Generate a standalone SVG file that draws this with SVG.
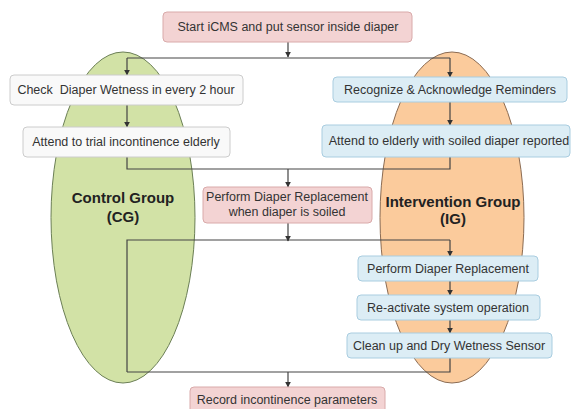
<svg xmlns="http://www.w3.org/2000/svg" width="572" height="409" viewBox="0 0 572 409">
<defs>
<marker id="ah" viewBox="0 0 10 10" refX="9" refY="5" markerWidth="6" markerHeight="6" orient="auto" markerUnits="userSpaceOnUse"><path d="M0,0 L10,5 L0,10 z" fill="#333"/></marker>
</defs>
<style>
text{font-family:"Liberation Sans",Arial,sans-serif;fill:#333;}
.t{font-size:12.5px;text-anchor:middle;}
.g{font-size:15px;font-weight:bold;text-anchor:middle;fill:#222;}
.pink{fill:#f3d3d3;stroke:#d9aaaa;stroke-width:1;}
.blue{fill:#dcedf5;stroke:#a9cde0;stroke-width:1;}
.white{fill:#f9f9f9;stroke:#cccccc;stroke-width:1;}
.c{fill:none;stroke:#444;stroke-width:1.2;}
</style>
<rect width="572" height="409" fill="#ffffff"/>
<g id="cg">
<ellipse cx="123" cy="217.5" rx="72" ry="165.5" fill="#d2e2a6" stroke="#6b7f55" stroke-width="1"/>
<text class="g" x="123" y="203">Control Group</text>
<text class="g" x="123" y="222">(CG)</text>
</g>
<g id="ig">
<ellipse cx="452" cy="217.5" rx="72" ry="165.5" fill="#fbcb9c" stroke="#8b6b52" stroke-width="1"/>
<text class="g" x="453" y="207">Intervention Group</text>
<text class="g" x="453" y="224">(IG)</text>
</g>
<g id="connectors">
<path class="c" d="M288,42 V57" marker-end="url(#ah)"/>
<path class="c" d="M127,58 H450"/>
<path class="c" d="M127,58 V75" marker-end="url(#ah)"/>
<path class="c" d="M450,58 V77" marker-end="url(#ah)"/>
<path class="c" d="M127,105 V127" marker-end="url(#ah)"/>
<path class="c" d="M450,102 V125" marker-end="url(#ah)"/>
<path class="c" d="M127,157 V169 H450 V157"/>
<path class="c" d="M288,169 V187" marker-end="url(#ah)"/>
<path class="c" d="M288,223 V240"/>
<path class="c" d="M127,372 V240 H450"/>
<path class="c" d="M288,240 V241" marker-end="url(#ah)"/>
<path class="c" d="M450,240 V256" marker-end="url(#ah)"/>
<path class="c" d="M450,281 V295" marker-end="url(#ah)"/>
<path class="c" d="M450,320 V333" marker-end="url(#ah)"/>
<path class="c" d="M450,358 V372 H127"/>
<path class="c" d="M288,372 V387" marker-end="url(#ah)"/>
</g>
<g id="start">
<rect class="pink" x="163" y="12" width="249" height="30" rx="4"/>
<text class="t" x="288" y="31">Start iCMS and put sensor inside diaper</text>
</g>
<g id="check">
<rect class="white" x="10" y="75" width="233" height="30" rx="4"/>
<text class="t" x="126" y="94" xml:space="preserve">Check  Diaper Wetness in every 2 hour</text>
</g>
<g id="attend-trial">
<rect class="white" x="23" y="127" width="207" height="30" rx="4"/>
<text class="t" x="126" y="146">Attend to trial incontinence elderly</text>
</g>
<g id="recognize">
<rect class="blue" x="333" y="77" width="234" height="25" rx="4"/>
<text class="t" x="450" y="94">Recognize &amp; Acknowledge Reminders</text>
</g>
<g id="attend-soiled">
<rect class="blue" x="322" y="125" width="248" height="32" rx="4"/>
<text class="t" x="449" y="145">Attend to elderly with soiled diaper reported</text>
</g>
<g id="perform-cg">
<rect class="pink" x="203" y="187" width="169" height="36" rx="4"/>
<text class="t" x="287" y="201">Perform Diaper Replacement</text>
<text class="t" x="287" y="216">when diaper is soiled</text>
</g>
<g id="perform-ig">
<rect class="blue" x="358" y="256" width="180" height="25" rx="4"/>
<text class="t" x="448" y="273">Perform Diaper Replacement</text>
</g>
<g id="reactivate">
<rect class="blue" x="357" y="295" width="183" height="25" rx="4"/>
<text class="t" x="448" y="312">Re-activate system operation</text>
</g>
<g id="cleanup">
<rect class="blue" x="347" y="333" width="205" height="25" rx="4"/>
<text class="t" x="449" y="350">Clean up and Dry Wetness Sensor</text>
</g>
<g id="record">
<rect class="pink" x="190" y="387" width="195" height="26" rx="4"/>
<text class="t" x="287" y="404">Record incontinence parameters</text>
</g>
</svg>
